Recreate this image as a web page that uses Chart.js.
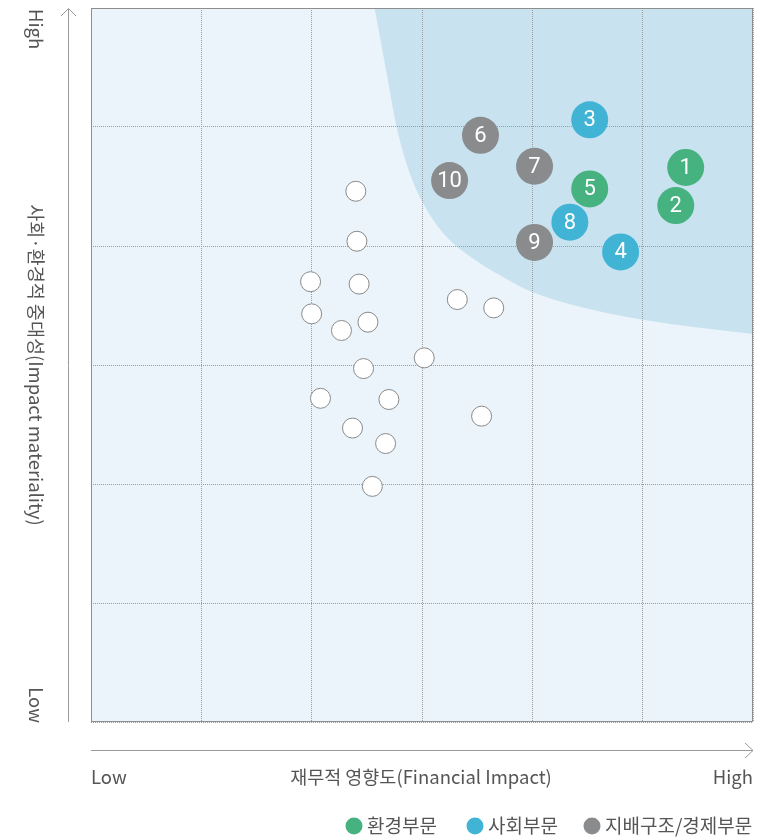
<!DOCTYPE html>
<html>
<head>
<meta charset="utf-8">
<script src="https://cdn.jsdelivr.net/npm/chart.js@4"></script>
<style>
    body { margin: 0; background: #fff; }
    #wrap { width: 772px; height: 840px; }
</style>
</head>
<body>
<div id="wrap"><canvas id="matrix" width="772" height="840"></canvas></div>
<script>
// issues: numbered, with category
var issueNums = ['1', '2', '3', '4', '5', '6', '7', '8', '9', '10'];
var issueCat = [0, 0, 1, 1, 0, 2, 2, 1, 2, 2];
var issueX = [5.39, 5.30, 4.52, 4.80, 4.52, 3.53, 4.02, 4.34, 4.02, 3.25];
var issueY = [4.66, 4.34, 5.06, 3.95, 4.48, 4.93, 4.67, 4.20, 4.03, 4.55];

// other (un-numbered) issues
var otherX = [2.40, 2.41, 1.99, 2.43, 2.00, 2.27, 2.51, 3.32, 3.65, 3.02, 2.47, 2.08, 2.70, 3.54, 2.37, 2.67, 2.55];
var otherY = [4.46, 4.04, 3.70, 3.68, 3.43, 3.29, 3.36, 3.55, 3.48, 3.06, 2.97, 2.72, 2.71, 2.57, 2.47, 2.34, 1.98];

// material area boundary
var bandX = [2.57, 2.67, 2.77, 2.89, 3.01, 3.19, 3.44, 3.83, 4.01, 4.43, 5.00, 6.00];
var bandY = [6.00, 5.50, 5.00, 4.61, 4.36, 4.11, 3.91, 3.69, 3.61, 3.49, 3.38, 3.26];

var categories = ['환경부문', '사회부문', '지배구조/경제부문'];
var catColors = ['#45b27f', '#41b4d6', '#8a8b8d'];

var xTitle = '재무적 영향도(Financial Impact)';
var yTitle = '사회·환경적 중대성(Impact materiality)';
var FONT = '"Noto Sans CJK KR", "Noto Sans", sans-serif';

function pts(xs, ys) {
    return xs.map((x, i) => ({ x: x, y: ys[i] }));
}

var issueData = pts(issueX, issueY);

const decor = {
    id: 'decor',
    beforeDatasetsDraw(chart) {
        const a = chart.chartArea;
        const ctx = chart.ctx;
        ctx.save();
        ctx.strokeStyle = '#8e8e8e';
        ctx.lineWidth = 1;
        ctx.strokeRect(a.left + 0.5, a.top + 0.5, a.right - a.left - 1, a.bottom - a.top - 1);
        ctx.restore();
    },
    afterDatasetsDraw(chart) {
        const ctx = chart.ctx;
        const meta = chart.getDatasetMeta(2);
        ctx.save();
        ctx.fillStyle = '#fff';
        ctx.font = '22px Roboto, ' + FONT;
        ctx.textAlign = 'center';
        ctx.textBaseline = 'middle';
        meta.data.forEach((el, i) => {
            ctx.fillText(issueNums[i], el.x, el.y + 1);
        });
        ctx.restore();
    },
    afterDraw(chart) {
        const a = chart.chartArea;
        const ctx = chart.ctx;
        ctx.save();
        // axis arrows
        ctx.strokeStyle = '#9a9a9a';
        ctx.lineWidth = 1;
        ctx.beginPath();
        ctx.moveTo(68.5, a.bottom);
        ctx.lineTo(68.5, a.top + 1);
        ctx.moveTo(61, a.top + 8);
        ctx.lineTo(68.5, a.top + 0.5);
        ctx.lineTo(76, a.top + 8);
        ctx.moveTo(a.left, 750.5);
        ctx.lineTo(a.right, 750.5);
        ctx.moveTo(a.right - 8, 743);
        ctx.lineTo(a.right, 750.5);
        ctx.lineTo(a.right - 8, 758);
        ctx.stroke();

        ctx.fillStyle = '#555';
        ctx.font = '18.5px ' + FONT;
        ctx.textBaseline = 'middle';
        // x axis texts
        ctx.textAlign = 'left';
        ctx.fillText('Low', a.left, 777);
        ctx.textAlign = 'right';
        ctx.fillText('High', a.right, 777);
        ctx.textAlign = 'center';
        ctx.fillText(xTitle, 421, 777);

        // y axis texts, rotated
        ctx.translate(36, 0);
        ctx.rotate(Math.PI / 2);
        ctx.textAlign = 'left';
        ctx.fillText('High', 9, 0);
        ctx.textAlign = 'right';
        ctx.fillText('Low', 723, 0);
        ctx.textAlign = 'center';
        ctx.fillText(yTitle, 365, 0);
        ctx.restore();

        // legend
        ctx.save();
        var lx = [354, 475, 592];
        ctx.font = '19px ' + FONT;
        ctx.textBaseline = 'middle';
        ctx.textAlign = 'left';
        categories.forEach((c, i) => {
            ctx.fillStyle = catColors[i];
            ctx.beginPath();
            ctx.arc(lx[i], 826, 8.5, 0, Math.PI * 2);
            ctx.fill();
            ctx.fillStyle = '#555';
            ctx.fillText(c, lx[i] + 13, 826);
        });
        ctx.restore();
    }
};

new Chart(document.getElementById('matrix'), {
    type: 'scatter',
    data: {
        datasets: [
            {
                type: 'line',
                label: 'band',
                data: pts(bandX, bandY),
                borderWidth: 0,
                pointRadius: 0,
                cubicInterpolationMode: 'monotone',
                backgroundColor: '#c9e2ef',
                fill: 'end'
            },
            {
                type: 'line',
                label: 'bg',
                data: [{ x: 0, y: 0 }, { x: 6, y: 0 }],
                borderWidth: 0,
                pointRadius: 0,
                backgroundColor: '#eaf4fa',
                fill: 'end'
            },
            {
                label: 'issues',
                data: issueData,
                pointRadius: 18.5,
                pointHoverRadius: 18.5,
                borderWidth: 0,
                backgroundColor: issueCat.map(c => catColors[c])
            },
            {
                label: 'others',
                data: pts(otherX, otherY),
                pointRadius: 10,
                pointHoverRadius: 10,
                borderWidth: 1,
                borderColor: '#8a8a8a',
                backgroundColor: '#fff'
            }
        ]
    },
    options: {
        responsive: false,
        animation: false,
        events: [],
        layout: { autoPadding: false, padding: { left: 91, right: 19, top: 8, bottom: 118 } },
        scales: {
            x: {
                type: 'linear', min: 0, max: 6,
                ticks: { display: false, stepSize: 1 },
                grid: { color: '#9c9c9c', drawTicks: false },
                border: { display: false, dash: [1, 1] }
            },
            y: {
                type: 'linear', min: 0, max: 6,
                ticks: { display: false, stepSize: 1 },
                grid: { color: '#9c9c9c', drawTicks: false },
                border: { display: false, dash: [1, 1] }
            }
        },
        plugins: {
            legend: { display: false },
            tooltip: { enabled: false },
            filler: { drawTime: 'beforeDraw' }
        }
    },
    plugins: [decor]
});
</script>
</body>
</html>
